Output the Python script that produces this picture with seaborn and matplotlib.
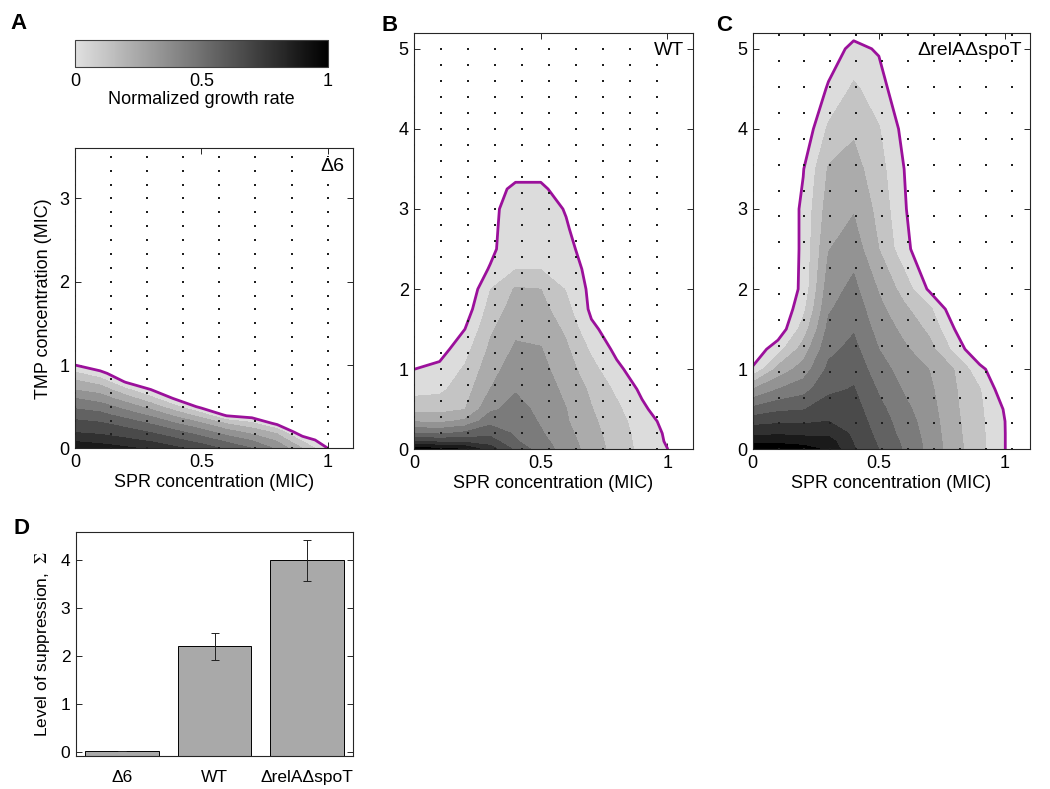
import numpy as np
import matplotlib
matplotlib.use("Agg")
import matplotlib.pyplot as plt
import seaborn as sns
from matplotlib.colors import LinearSegmentedColormap, Normalize
from matplotlib.cm import ScalarMappable

# SPR concentration (MIC) of the growth-grid columns, shared by A-C
spr = [0.0, 0.1, 0.2, 0.3, 0.4, 0.5, 0.6, 0.7, 0.8, 0.9, 1.0, 1.1]

# TMP concentration (MIC) of the growth-grid rows
tmp_a = [0.0, 0.1, 0.2, 0.3, 0.4, 0.5, 0.6, 0.7, 0.8, 0.9, 1.0, 1.1, 1.5, 3.8]
tmp_b = [0.0, 0.1, 0.2, 0.35, 0.5, 0.75, 1.0, 1.25, 1.5, 1.75, 2.0, 2.25, 2.5,
         2.75, 3.0, 3.25, 3.5, 5.5]
tmp_c = [0.0, 0.1, 0.2, 0.35, 0.5, 0.75, 1.0, 1.25, 1.5, 1.75, 2.0, 2.5, 3.0,
         3.5, 4.0, 4.5, 5.0, 5.5]

# normalized growth rate, one list per SPR column (TMP going up)
growth_a = [
    [0.98, 0.88, 0.79, 0.73, 0.66, 0.58, 0.50, 0.40, 0.32, 0.22, 0.10, 0.03, 0, 0],
    [0.95, 0.86, 0.77, 0.71, 0.63, 0.55, 0.45, 0.36, 0.26, 0.13, 0.03, 0, 0, 0],
    [0.92, 0.82, 0.74, 0.66, 0.56, 0.46, 0.35, 0.23, 0.09, 0.02, 0, 0, 0, 0],
    [0.88, 0.78, 0.69, 0.59, 0.48, 0.36, 0.23, 0.105, 0.02, 0, 0, 0, 0, 0],
    [0.82, 0.72, 0.62, 0.50, 0.37, 0.22, 0.08, 0, 0, 0, 0, 0, 0, 0],
    [0.76, 0.65, 0.54, 0.41, 0.25, 0.07, 0, 0, 0, 0, 0, 0, 0, 0],
    [0.68, 0.57, 0.44, 0.29, 0.08, 0, 0, 0, 0, 0, 0, 0, 0, 0],
    [0.60, 0.49, 0.36, 0.22, 0.04, 0, 0, 0, 0, 0, 0, 0, 0, 0],
    [0.48, 0.38, 0.27, 0.07, 0, 0, 0, 0, 0, 0, 0, 0, 0, 0],
    [0.30, 0.18, 0, 0, 0, 0, 0, 0, 0, 0, 0, 0, 0, 0],
    [0.101, 0.02, 0, 0, 0, 0, 0, 0, 0, 0, 0, 0, 0, 0],
    [0, 0, 0, 0, 0, 0, 0, 0, 0, 0, 0, 0, 0, 0],
]

growth_b = [
    [1.05, 0.80, 0.60, 0.39, 0.263, 0.166, 0.10, 0.04, 0, 0, 0, 0, 0, 0, 0, 0, 0, 0],
    [1.04, 0.775, 0.583, 0.38, 0.267, 0.177, 0.125, 0.06, 0, 0, 0, 0, 0, 0, 0, 0, 0, 0],
    [1.0, 0.77, 0.625, 0.42, 0.297, 0.256, 0.213, 0.162, 0.10, 0.04, 0, 0, 0, 0, 0, 0, 0, 0],
    [0.85, 0.75, 0.667, 0.567, 0.48, 0.40, 0.36, 0.32, 0.283, 0.24, 0.197, 0.11, 0.07,
     0.065, 0.06, 0.02, 0, 0],
    [0.68, 0.61, 0.586, 0.56, 0.534, 0.492, 0.454, 0.415, 0.379, 0.344, 0.31, 0.197, 0.19,
     0.18, 0.17, 0.14, 0.02, 0],
    [0.55, 0.53, 0.51, 0.49, 0.476, 0.452, 0.429, 0.405, 0.371, 0.336, 0.30, 0.197, 0.19,
     0.18, 0.17, 0.14, 0.02, 0],
    [0.46, 0.445, 0.43, 0.41, 0.402, 0.377, 0.348, 0.318, 0.281, 0.233, 0.192, 0.166, 0.141,
     0.115, 0.09, 0, 0, 0],
    [0.355, 0.345, 0.335, 0.32, 0.305, 0.281, 0.234, 0.182, 0.12, 0.08, 0.075, 0.06, 0.03,
     0, 0, 0, 0, 0],
    [0.26, 0.255, 0.25, 0.24, 0.22, 0.18, 0.123, 0.075, 0.05, 0.02, 0, 0, 0, 0, 0, 0, 0, 0],
    [0.17, 0.165, 0.16, 0.145, 0.12, 0.08, 0.04, 0.02, 0, 0, 0, 0, 0, 0, 0, 0, 0, 0],
    [0.102, 0.09, 0.085, 0.07, 0.04, 0.01, 0, 0, 0, 0, 0, 0, 0, 0, 0, 0, 0, 0],
    [0, 0, 0, 0, 0, 0, 0, 0, 0, 0, 0, 0, 0, 0, 0, 0, 0, 0],
]

growth_c = [
    [1.1, 0.96, 0.871, 0.762, 0.63, 0.40, 0.113, 0.03, 0, 0, 0, 0, 0, 0, 0, 0, 0, 0],
    [1.08, 0.97, 0.886, 0.78, 0.68, 0.50, 0.333, 0.158, 0.03, 0, 0, 0, 0, 0, 0, 0, 0, 0],
    [1.05, 0.95, 0.875, 0.78, 0.695, 0.56, 0.444, 0.344, 0.244, 0.17, 0.125, 0.12, 0.12,
     0.095, 0.02, 0, 0, 0],
    [0.98, 0.945, 0.875, 0.80, 0.75, 0.678, 0.622, 0.573, 0.527, 0.4875, 0.456, 0.395,
     0.348, 0.31, 0.218, 0.111, 0.05, 0],
    [0.81, 0.793, 0.78, 0.76, 0.74, 0.707, 0.668, 0.629, 0.591, 0.559, 0.527, 0.458, 0.39,
     0.339, 0.284, 0.219, 0.125, 0],
    [0.70, 0.685, 0.67, 0.65, 0.63, 0.588, 0.544, 0.50, 0.464, 0.429, 0.391, 0.30, 0.269,
     0.238, 0.206, 0.144, 0.09, 0],
    [0.59, 0.58, 0.565, 0.55, 0.527, 0.49, 0.455, 0.417, 0.373, 0.321, 0.26, 0.135, 0.11,
     0.10, 0.07, 0.018, 0, 0],
    [0.47, 0.465, 0.46, 0.45, 0.44, 0.42, 0.398, 0.337, 0.278, 0.222, 0.083, 0, 0, 0, 0,
     0, 0, 0],
    [0.34, 0.335, 0.33, 0.325, 0.318, 0.31, 0.297, 0.17, 0.10, 0.03, 0, 0, 0, 0, 0, 0, 0, 0],
    [0.23, 0.228, 0.226, 0.222, 0.218, 0.205, 0.13, 0, 0, 0, 0, 0, 0, 0, 0, 0, 0, 0],
    [0.101, 0.101, 0.101, 0.10, 0.09, 0.03, 0, 0, 0, 0, 0, 0, 0, 0, 0, 0, 0, 0],
    [0, 0, 0, 0, 0, 0, 0, 0, 0, 0, 0, 0, 0, 0, 0, 0, 0, 0],
]

# measured wells (dot grid) for each strain
wells_a_spr = [0.0, 0.143, 0.286, 0.429, 0.571, 0.714, 0.857, 1.0]
wells_a_tmp = [0.0, 0.167, 0.333, 0.5, 0.667, 0.833, 1.0, 1.167, 1.333, 1.5, 1.667,
               1.833, 2.0, 2.167, 2.333, 2.5, 2.667, 2.833, 3.0, 3.167, 3.333, 3.5]
wells_b_spr = [0.0, 0.107, 0.213, 0.32, 0.427, 0.533, 0.64, 0.747, 0.853, 0.96]
wells_b_tmp = [0.0, 0.2, 0.4, 0.6, 0.8, 1.0, 1.2, 1.4, 1.6, 1.8, 2.0, 2.2, 2.4, 2.6,
               2.8, 3.0, 3.2, 3.4, 3.6, 3.8, 4.0, 4.2, 4.4, 4.6, 4.8, 5.0]
wells_c_spr = [0.0, 0.103, 0.205, 0.308, 0.411, 0.513, 0.616, 0.719, 0.821, 0.924, 1.027]
wells_c_tmp = [0.0, 0.323, 0.646, 0.969, 1.292, 1.615, 1.938, 2.261, 2.584, 2.907,
               3.23, 3.553, 3.876, 4.199, 4.522, 4.845, 5.168]

# panel D
strains = ["Δ6", "WT", "ΔrelAΔspoT"]
suppression = [0.02, 2.2, 4.0]
suppression_err = [0.0, 0.28, 0.43]

# contour styling
band_levels = [0.1, 0.2, 0.3, 0.4, 0.5, 0.6, 0.7, 0.8, 0.9, 1.0, 2.0]
band_colors = ['#dcdcdc', '#c4c4c4', '#ababab', '#939393', '#7b7b7b',
               '#626262', '#4a4a4a', '#313131', '#1a1a1a', '#000000']
edge_purple = '#9b109b'

sns.set_theme(style="white")
plt.rcParams['font.family'] = ['Liberation Sans', 'DejaVu Sans']
plt.rcParams['mathtext.fontset'] = 'stix'
plt.rcParams['text.color'] = 'black'
plt.rcParams['axes.labelcolor'] = 'black'
plt.rcParams['xtick.color'] = 'black'
plt.rcParams['ytick.color'] = 'black'
plt.rcParams['axes.edgecolor'] = '#262626'
plt.rcParams['axes.linewidth'] = 0.8

TICK_SIZE = 13
LABEL_SIZE = 13


def box_style(ax, size=TICK_SIZE):
    for s in ax.spines.values():
        s.set_visible(True)
        s.set_color('#262626')
        s.set_linewidth(0.8)
    ax.tick_params(direction='in', length=4, width=0.7, top=True, right=True,
                   bottom=True, left=True, labelsize=size, pad=4, colors='#262626',
                   labelcolor='black')


def growth_panel(ax, tmp, growth, dot_x, dot_y, ytop, yticks, tag):
    z = np.array(growth).T
    ax.contourf(spr, tmp, z, levels=band_levels, colors=band_colors)
    ax.contour(spr, tmp, z, levels=[band_levels[0]], colors=edge_purple, linewidths=2.0)
    gx, gy = np.meshgrid(dot_x, dot_y)
    sns.scatterplot(x=gx.ravel(), y=gy.ravel(), ax=ax, s=1.7, marker='s',
                    color='#202020', linewidth=0, zorder=3)
    ax.set_xlim(0, 1.1)
    ax.set_ylim(0, ytop)
    ax.set_xticks([0, 0.5, 1])
    ax.set_xticklabels(['0', '0.5', '1'])
    ax.set_yticks(yticks)
    ax.set_yticklabels([str(t) for t in yticks])
    ax.set_xlabel('SPR concentration (MIC)', fontsize=LABEL_SIZE, labelpad=2)
    ax.annotate(tag, xy=(1, 1), xycoords='axes fraction', xytext=(-6, -7),
                textcoords='offset points', ha='right', va='top', fontsize=14,
                zorder=5, bbox=dict(boxstyle='square,pad=0.05', fc='white', ec='none'))
    box_style(ax)


fig = plt.figure(figsize=(10.5, 7.89), dpi=100)

# colour bar above panel A
cax = fig.add_axes([0.0714, 0.9151, 0.241, 0.0342])
cmap = LinearSegmentedColormap.from_list('growth', ['#e0e0e0', '#000000'])
cb = fig.colorbar(ScalarMappable(norm=Normalize(0, 1), cmap=cmap), cax=cax,
                  orientation='horizontal', ticks=[0, 0.5, 1])
cb.ax.set_xticklabels(['0', '0.5', '1'])
cb.outline.set_edgecolor('#404040')
cb.outline.set_linewidth(0.8)
cax.tick_params(direction='in', length=3, width=0.7, top=True, bottom=True,
                labelsize=TICK_SIZE, pad=4, colors='#404040', labelcolor='black')
cax.set_xlabel('Normalized growth rate', fontsize=LABEL_SIZE, labelpad=1)

ax_a = fig.add_axes([0.0714, 0.4318, 0.2648, 0.38])
growth_panel(ax_a, tmp_a, growth_a, wells_a_spr, wells_a_tmp, 3.6, [0, 1, 2, 3], 'Δ6')
ax_a.set_ylabel('TMP concentration (MIC)', fontsize=LABEL_SIZE, labelpad=5)

ax_b = fig.add_axes([0.3946, 0.4305, 0.265, 0.528])
growth_panel(ax_b, tmp_b, growth_b, wells_b_spr, wells_b_tmp, 5.2, [0, 1, 2, 3, 4, 5], 'WT')

ax_c = fig.add_axes([0.7169, 0.4305, 0.2643, 0.528])
growth_panel(ax_c, tmp_c, growth_c, wells_c_spr, wells_c_tmp, 5.2, [0, 1, 2, 3, 4, 5],
             'ΔrelAΔspoT')

# panel D: level of suppression
ax_d = fig.add_axes([0.0724, 0.0418, 0.2638, 0.2843])
base = -0.09
sns.barplot(x=strains, y=suppression, color='#a9a9a9', saturation=1, edgecolor='black',
            linewidth=0.7, width=0.8, errorbar=None, ax=ax_d, zorder=2)
for bar in ax_d.patches:
    top = bar.get_y() + bar.get_height()
    bar.set_y(base)
    bar.set_height(top - base)
ax_d.errorbar(x=[0, 1, 2], y=suppression, yerr=suppression_err, fmt='none',
              ecolor='#202020', elinewidth=0.7, capsize=3, capthick=0.7, zorder=3)
ax_d.set_xlim(-0.5, 2.5)
ax_d.set_ylim(base, 4.6)
ax_d.set_yticks([0, 1, 2, 3, 4])
ax_d.set_yticklabels(['0', '1', '2', '3', '4'])
ax_d.set_ylabel('Level of suppression,  $\\Sigma$', fontsize=12.5, labelpad=6)
box_style(ax_d, size=12.5)
ax_d.tick_params(axis='x', length=0, pad=10)

# panel letters
for letter, x, y in [('A', 0.0095, 0.983), ('B', 0.3638, 0.981), ('C', 0.682, 0.981),
                     ('D', 0.0124, 0.343)]:
    fig.text(x, y, letter, fontsize=16, fontweight='bold', va='top', ha='left',
             color='black')

fig.savefig('out.png', dpi=100)
